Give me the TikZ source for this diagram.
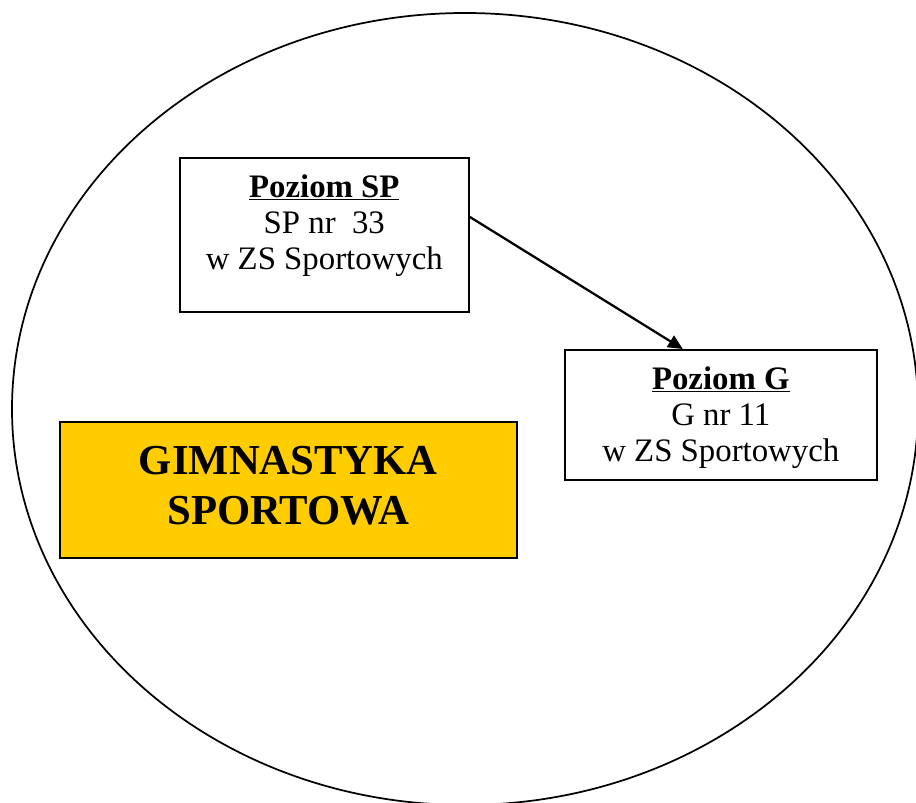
\documentclass[tikz,border=0pt]{standalone}
\usepackage{fontspec}
\setmainfont{Liberation Serif}
\usetikzlibrary{arrows.meta}

\definecolor{sportyellow}{HTML}{FFCC00}

\begin{document}
\begin{tikzpicture}[
    x=0.75pt, y=-0.75pt,
    box/.style={rectangle, draw, line width=1.2pt, fill=#1, inner sep=0pt, anchor=north west},
    level box/.style={box=white},
    sport box/.style={box=sportyellow},
    box text/.style={anchor=north, align=center, inner sep=0pt,
        font=\fontsize{24.6pt}{27pt}\selectfont},
    sport text/.style={align=center, inner sep=0pt,
        font=\fontsize{32pt}{37.5pt}\selectfont\bfseries},
    connection/.style={-{Triangle[length=11pt, width=10pt]}, line width=1.7pt}
]

% Frame
\useasboundingbox (0,0) rectangle (916,802);
\clip (0,0) rectangle (916,802);

% School ellipse
\draw[line width=1.3pt] (465,409) ellipse [x radius=339.75pt, y radius=297pt];

% Level SP
\node[level box, minimum width=216.75pt, minimum height=115.5pt] (SP) at (179,157) {};
\node[box text] (SPtext) at ([yshift=-13pt]SP.north)
    {\textbf{\underline{Poziom SP}}\\SP nr\ \ 33\\w ZS Sportowych};

% Level G
\node[level box, minimum width=234pt, minimum height=97.5pt] (G) at (564,349) {};
\node[box text] (Gtext) at ([yshift=-13pt]G.north)
    {\textbf{\underline{Poziom G}}\\G nr 11\\w ZS Sportowych};

% Discipline
\node[sport box, minimum width=342.75pt, minimum height=102pt] (GS) at (59,421) {};
\node[sport text] (GStext) at ([yshift=3pt]GS.center) {GIMNASTYKA\\SPORTOWA};

% Path
\draw[connection] ([yshift=13.5pt]SP.east) -- ([xshift=-28.5pt]G.north);

\end{tikzpicture}
\end{document}
